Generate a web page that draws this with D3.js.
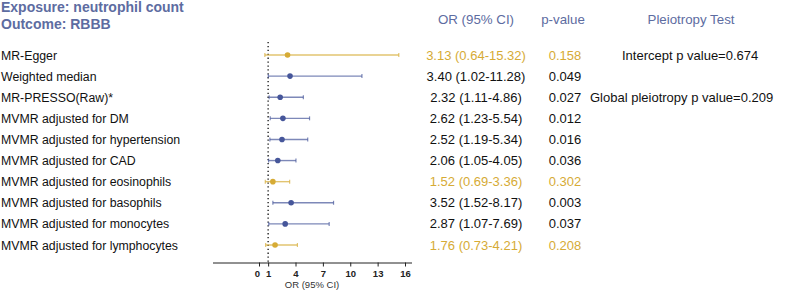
<!DOCTYPE html>
<html>
<head>
<meta charset="utf-8">
<script src="https://cdn.jsdelivr.net/npm/d3@7/dist/d3.min.js"></script>
<style>
  body { margin: 0; background: #fff; }
  svg { font-family: "Liberation Sans", Arial, Helvetica, sans-serif; }
</style>
</head>
<body>
<div id="chart"></div>
<script>
// forest plot: neutrophil count -> RBBB

const methods = [
    "MR-Egger", "Weighted median", "MR-PRESSO(Raw)*", "MVMR adjusted for DM",
    "MVMR adjusted for hypertension", "MVMR adjusted for CAD",
    "MVMR adjusted for eosinophils", "MVMR adjusted for basophils",
    "MVMR adjusted for monocytes", "MVMR adjusted for lymphocytes"
];
const orValues = [3.13, 3.40, 2.32, 2.62, 2.52, 2.06, 1.52, 3.52, 2.87, 1.76];
const ciLow = [0.64, 1.02, 1.11, 1.23, 1.19, 1.05, 0.69, 1.52, 1.07, 0.73];
const ciHigh = [15.32, 11.28, 4.86, 5.54, 5.34, 4.05, 3.36, 8.17, 7.69, 4.21];
const pValues = ["0.158", "0.049", "0.027", "0.012", "0.016", "0.036", "0.302", "0.003", "0.037", "0.208"];
const pleio = ["Intercept p value=0.674", "", "Global pleiotropy p value=0.209", "", "", "", "", "", "", ""];
const tickValues = [0, 1, 4, 7, 10, 13, 16];

const W = 787, H = 294;
const gold = "#d6ab35", blue = "#46569a", head = "#5d6ca1";

const svg = d3.select("#chart").append("svg")
    .attr("width", W).attr("height", H);

const rows = methods.map((m, i) => ({
    method: m, or: orValues[i], lo: ciLow[i], hi: ciHigh[i],
    p: pValues[i], pleio: pleio[i], sig: +pValues[i] < 0.05
}));

const x = d3.scaleLinear().domain([0, 16]).range([259, 405]);
const y = d3.scalePoint().domain(methods).range([55, 245]);
const axisY = 262.5;

// titles
svg.append("text").attr("x", 1).attr("y", 12)
    .attr("font-size", 14).attr("font-weight", "bold").attr("fill", head)
    .text("Exposure: neutrophil count");
svg.append("text").attr("x", 1).attr("y", 29)
    .attr("font-size", 14).attr("font-weight", "bold").attr("fill", head)
    .text("Outcome: RBBB");

// column headers
const headers = [["OR (95% CI)", 476], ["p-value", 563], ["Pleiotropy Test", 691]];
svg.selectAll(".hdr").data(headers).enter().append("text")
    .attr("x", d => d[1]).attr("y", 24)
    .attr("text-anchor", "middle").attr("font-size", 13.3).attr("fill", head)
    .text(d => d[0]);

// reference line at OR = 1
svg.append("line")
    .attr("x1", x(1)).attr("x2", x(1)).attr("y1", 42).attr("y2", axisY)
    .attr("stroke", "#111").attr("stroke-width", 1.3).attr("stroke-dasharray", "1.3,2.6");

// x axis
const axis = svg.append("g").attr("transform", `translate(0,${axisY})`)
    .call(d3.axisBottom(x).tickValues(tickValues).tickSize(4).tickPadding(4).tickSizeOuter(0));
axis.select(".domain").attr("d", "M213,0.5H412").attr("stroke", "#222");
axis.selectAll(".tick line").attr("stroke", "#222");
axis.selectAll(".tick text").attr("font-size", 9.5).attr("font-weight", "bold")
    .attr("fill", "#222").attr("font-family", "Liberation Sans, Arial, sans-serif");
axis.selectAll(".tick").filter(d => d === 0).select("text").attr("dx", -2);

svg.append("text").attr("x", 312).attr("y", 288)
    .attr("text-anchor", "middle").attr("font-size", 9.5).attr("fill", "#333")
    .text("OR (95% CI)");

// rows
const row = svg.selectAll(".row").data(rows).enter().append("g").attr("class", "row");

row.append("text").attr("x", 1).attr("y", d => y(d.method) + 4.5)
    .attr("font-size", 12.3).attr("fill", "#111").text(d => d.method);

const col = d => d.sig ? blue : gold;

row.append("line")
    .attr("x1", d => x(d.lo)).attr("x2", d => x(d.hi))
    .attr("y1", d => y(d.method)).attr("y2", d => y(d.method))
    .attr("stroke", col).attr("stroke-opacity", 0.7).attr("stroke-width", 1.4);
row.append("line")
    .attr("x1", d => x(d.lo)).attr("x2", d => x(d.lo))
    .attr("y1", d => y(d.method) - 2).attr("y2", d => y(d.method) + 2)
    .attr("stroke", col).attr("stroke-opacity", 0.7).attr("stroke-width", 1.2);
row.append("line")
    .attr("x1", d => x(d.hi)).attr("x2", d => x(d.hi))
    .attr("y1", d => y(d.method) - 2).attr("y2", d => y(d.method) + 2)
    .attr("stroke", col).attr("stroke-opacity", 0.7).attr("stroke-width", 1.2);
row.append("circle")
    .attr("cx", d => x(d.or)).attr("cy", d => y(d.method)).attr("r", 2.8)
    .attr("fill", col);

row.append("text").attr("x", 476).attr("y", d => y(d.method) + 4.5)
    .attr("text-anchor", "middle").attr("font-size", 13)
    .attr("fill", d => d.sig ? "#111" : gold)
    .text(d => `${d.or.toFixed(2)} (${d.lo.toFixed(2)}-${d.hi.toFixed(2)})`);

row.append("text").attr("x", 565).attr("y", d => y(d.method) + 4.5)
    .attr("text-anchor", "middle").attr("font-size", 13)
    .attr("fill", d => d.sig ? "#111" : gold)
    .text(d => d.p);

row.filter(d => d.pleio).append("text")
    .attr("x", (d, i) => i === 0 ? 622 : 590).attr("y", d => y(d.method) + 4.5)
    .attr("font-size", 13).attr("fill", "#111")
    .text(d => d.pleio);
</script>
</body>
</html>
